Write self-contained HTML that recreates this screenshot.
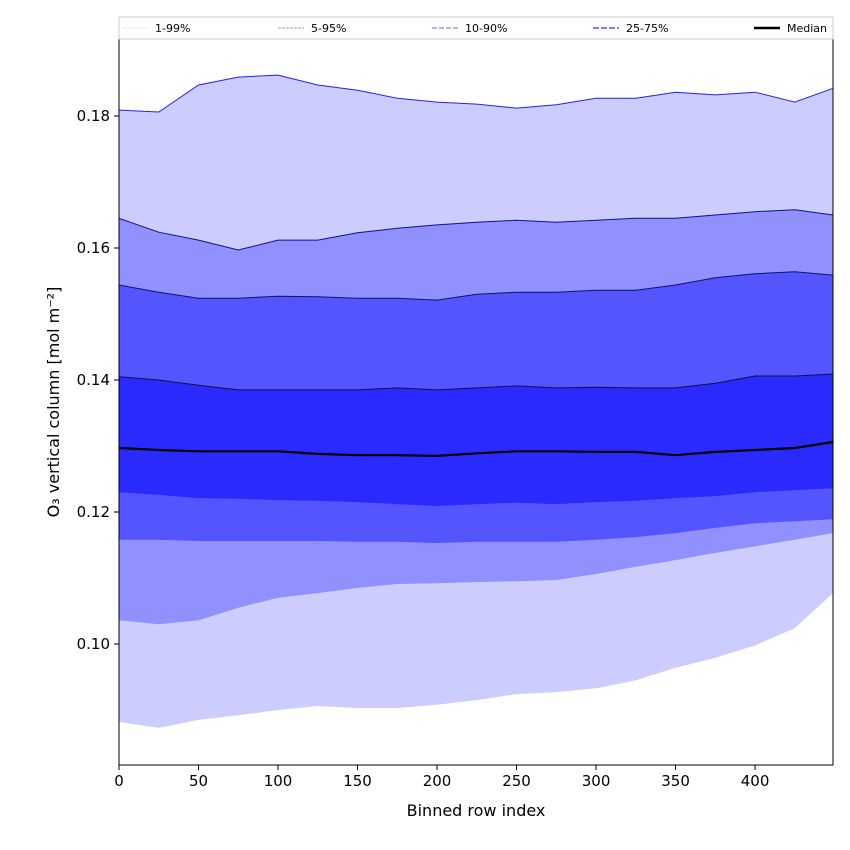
<!DOCTYPE html>
<html><head><meta charset="utf-8"><style>
body{margin:0;background:#fff;}
svg{display:block;font-family:"DejaVu Sans","Liberation Sans",sans-serif;}
</style></head><body>
<svg id="chart" width="850" height="850">
<g id="bands"></g><g id="axes"></g>
</svg>
<script>
const xs=[0,25,50,75,100,125,150,175,200,225,250,275,300,325,350,375,400,425,449];
const p99=[0.1809,0.1806,0.1847,0.1859,0.1862,0.1847,0.1839,0.1827,0.1821,0.1818,0.1812,0.1817,0.1827,0.1827,0.1836,0.1832,0.1836,0.1821,0.1842];
const p95=[0.1645,0.1624,0.1612,0.1597,0.1612,0.1612,0.1623,0.1630,0.1635,0.1639,0.1642,0.1639,0.1642,0.1645,0.1645,0.1650,0.1655,0.1658,0.1650];
const p90=[0.1544,0.1533,0.1524,0.1524,0.1527,0.1526,0.1524,0.1524,0.1521,0.1530,0.1533,0.1533,0.1536,0.1536,0.1544,0.1555,0.1561,0.1564,0.1559];
const p75=[0.1405,0.1400,0.1392,0.1385,0.1385,0.1385,0.1385,0.1388,0.1385,0.1388,0.1391,0.1388,0.1389,0.1388,0.1388,0.1395,0.1406,0.1406,0.1409];
const med=[0.1297,0.1294,0.1292,0.1292,0.1292,0.1288,0.1286,0.1286,0.1285,0.1289,0.1292,0.1292,0.1291,0.1291,0.1286,0.1291,0.1294,0.1297,0.1306];
const p25=[0.1230,0.1226,0.1221,0.1220,0.1218,0.1217,0.1215,0.1212,0.1209,0.1212,0.1214,0.1212,0.1215,0.1217,0.1221,0.1224,0.1230,0.1233,0.1236];
const p10=[0.1158,0.1158,0.1156,0.1156,0.1156,0.1156,0.1155,0.1155,0.1153,0.1155,0.1155,0.1155,0.1158,0.1162,0.1168,0.1176,0.1183,0.1186,0.1189];
const p5=[0.1036,0.1030,0.1036,0.1055,0.1070,0.1077,0.1085,0.1091,0.1092,0.1094,0.1095,0.1097,0.1106,0.1117,0.1127,0.1138,0.1148,0.1158,0.1168];
const p1=[0.0882,0.0873,0.0885,0.0892,0.0900,0.0906,0.0903,0.0903,0.0908,0.0915,0.0924,0.0927,0.0933,0.0945,0.0964,0.0979,0.0998,0.1024,0.1077];
const xTicks=[0,50,100,150,200,250,300,350,400];
const yTicks=[0.10,0.12,0.14,0.16,0.18];
const yTickLabels=["0.10","0.12","0.14","0.16","0.18"];
const L=119,R=833,T=39,B=765;
const X=v=>L+(v-0)*(R-L)/449;
const Y=v=>116-(v-0.18)*6600;
const NS="http://www.w3.org/2000/svg";
function mk(tag,attrs,parent){const e=document.createElementNS(NS,tag);for(const k in attrs)e.setAttribute(k,attrs[k]);parent.appendChild(e);return e;}
const bands=document.getElementById('bands'),axes=document.getElementById('axes');
function line(arr){return xs.map((x,i)=>X(x).toFixed(1)+','+Y(arr[i]).toFixed(1)).join(' ');}
function band(lo,hi,color,name){
  const pts=xs.map((x,i)=>X(x)+','+Y(hi[i])).concat(xs.slice().reverse().map((x,j)=>{const i=xs.length-1-j;return X(x)+','+Y(lo[i]);}));
  const p=mk('polygon',{points:pts.join(' '),fill:color},bands);
  
  
}
band(p1,p99,'#ccccff','band-1-99');
band(p5,p95,'#9090ff','band-5-95');
band(p10,p90,'#5555ff','band-10-90');
band(p25,p75,'#2a2aff','band-25-75');
[[p99,'#2222ee'],[p95,'#111188'],[p90,'#111166'],[p75,'#111144']].forEach((d,k)=>{
  const l=mk('polyline',{points:line(d[0]),fill:'none',stroke:d[1],'stroke-width':1},bands);
  
  
});
const m=mk('polyline',{points:line(med),fill:'none',stroke:'#000','stroke-width':2.2},bands);


const frame=mk('rect',{x:L,y:T,width:R-L,height:B-T,fill:'none',stroke:'#000','stroke-width':1},axes);


xTicks.forEach(t=>{
  mk('line',{x1:X(t),x2:X(t),y1:B,y2:B+5,stroke:'#000'},axes);
  const tx=mk('text',{x:X(t),y:B+21,'text-anchor':'middle','font-size':15},axes);
  tx.textContent=t;
  
  
});
yTicks.forEach((t,i)=>{
  mk('line',{x1:L-5,x2:L,y1:Y(t),y2:Y(t),stroke:'#000'},axes);
  const tx=mk('text',{x:L-9,y:Y(t)+5,'text-anchor':'end','font-size':15},axes);
  tx.textContent=yTickLabels[i];
  
  
});
const xt=mk('text',{x:(L+R)/2,y:816,'text-anchor':'middle','font-size':16},axes);
xt.textContent='Binned row index';


const yt=mk('text',{x:0,y:0,'text-anchor':'middle','font-size':16,transform:'translate(59,402) rotate(-90)'},axes);
yt.textContent='O₃ vertical column [mol m⁻²]';


const lg=mk('g',{},axes);


mk('rect',{x:L,y:17,width:R-L,height:22,fill:'#fff',stroke:'#ccc'},lg);
const items=[['1-99%',122,'#ddddff','2,1',1],['5-95%',278,'#9999ee','3,1',1],['10-90%',432,'#8888ee','5,2',1.3],['25-75%',593,'#5555ff','6,2',1.6],['Median',754,'#000','',2.5]];
items.forEach(it=>{
  const g=mk('g',{},lg);
  
  
  mk('line',{x1:it[1],x2:it[1]+26,y1:28,y2:28,stroke:it[2],'stroke-width':it[4],'stroke-dasharray':it[3]},g);
  const tx=mk('text',{x:it[1]+33,y:32,'font-size':11},g);
  tx.textContent=it[0];
});
</script>
</body></html>
